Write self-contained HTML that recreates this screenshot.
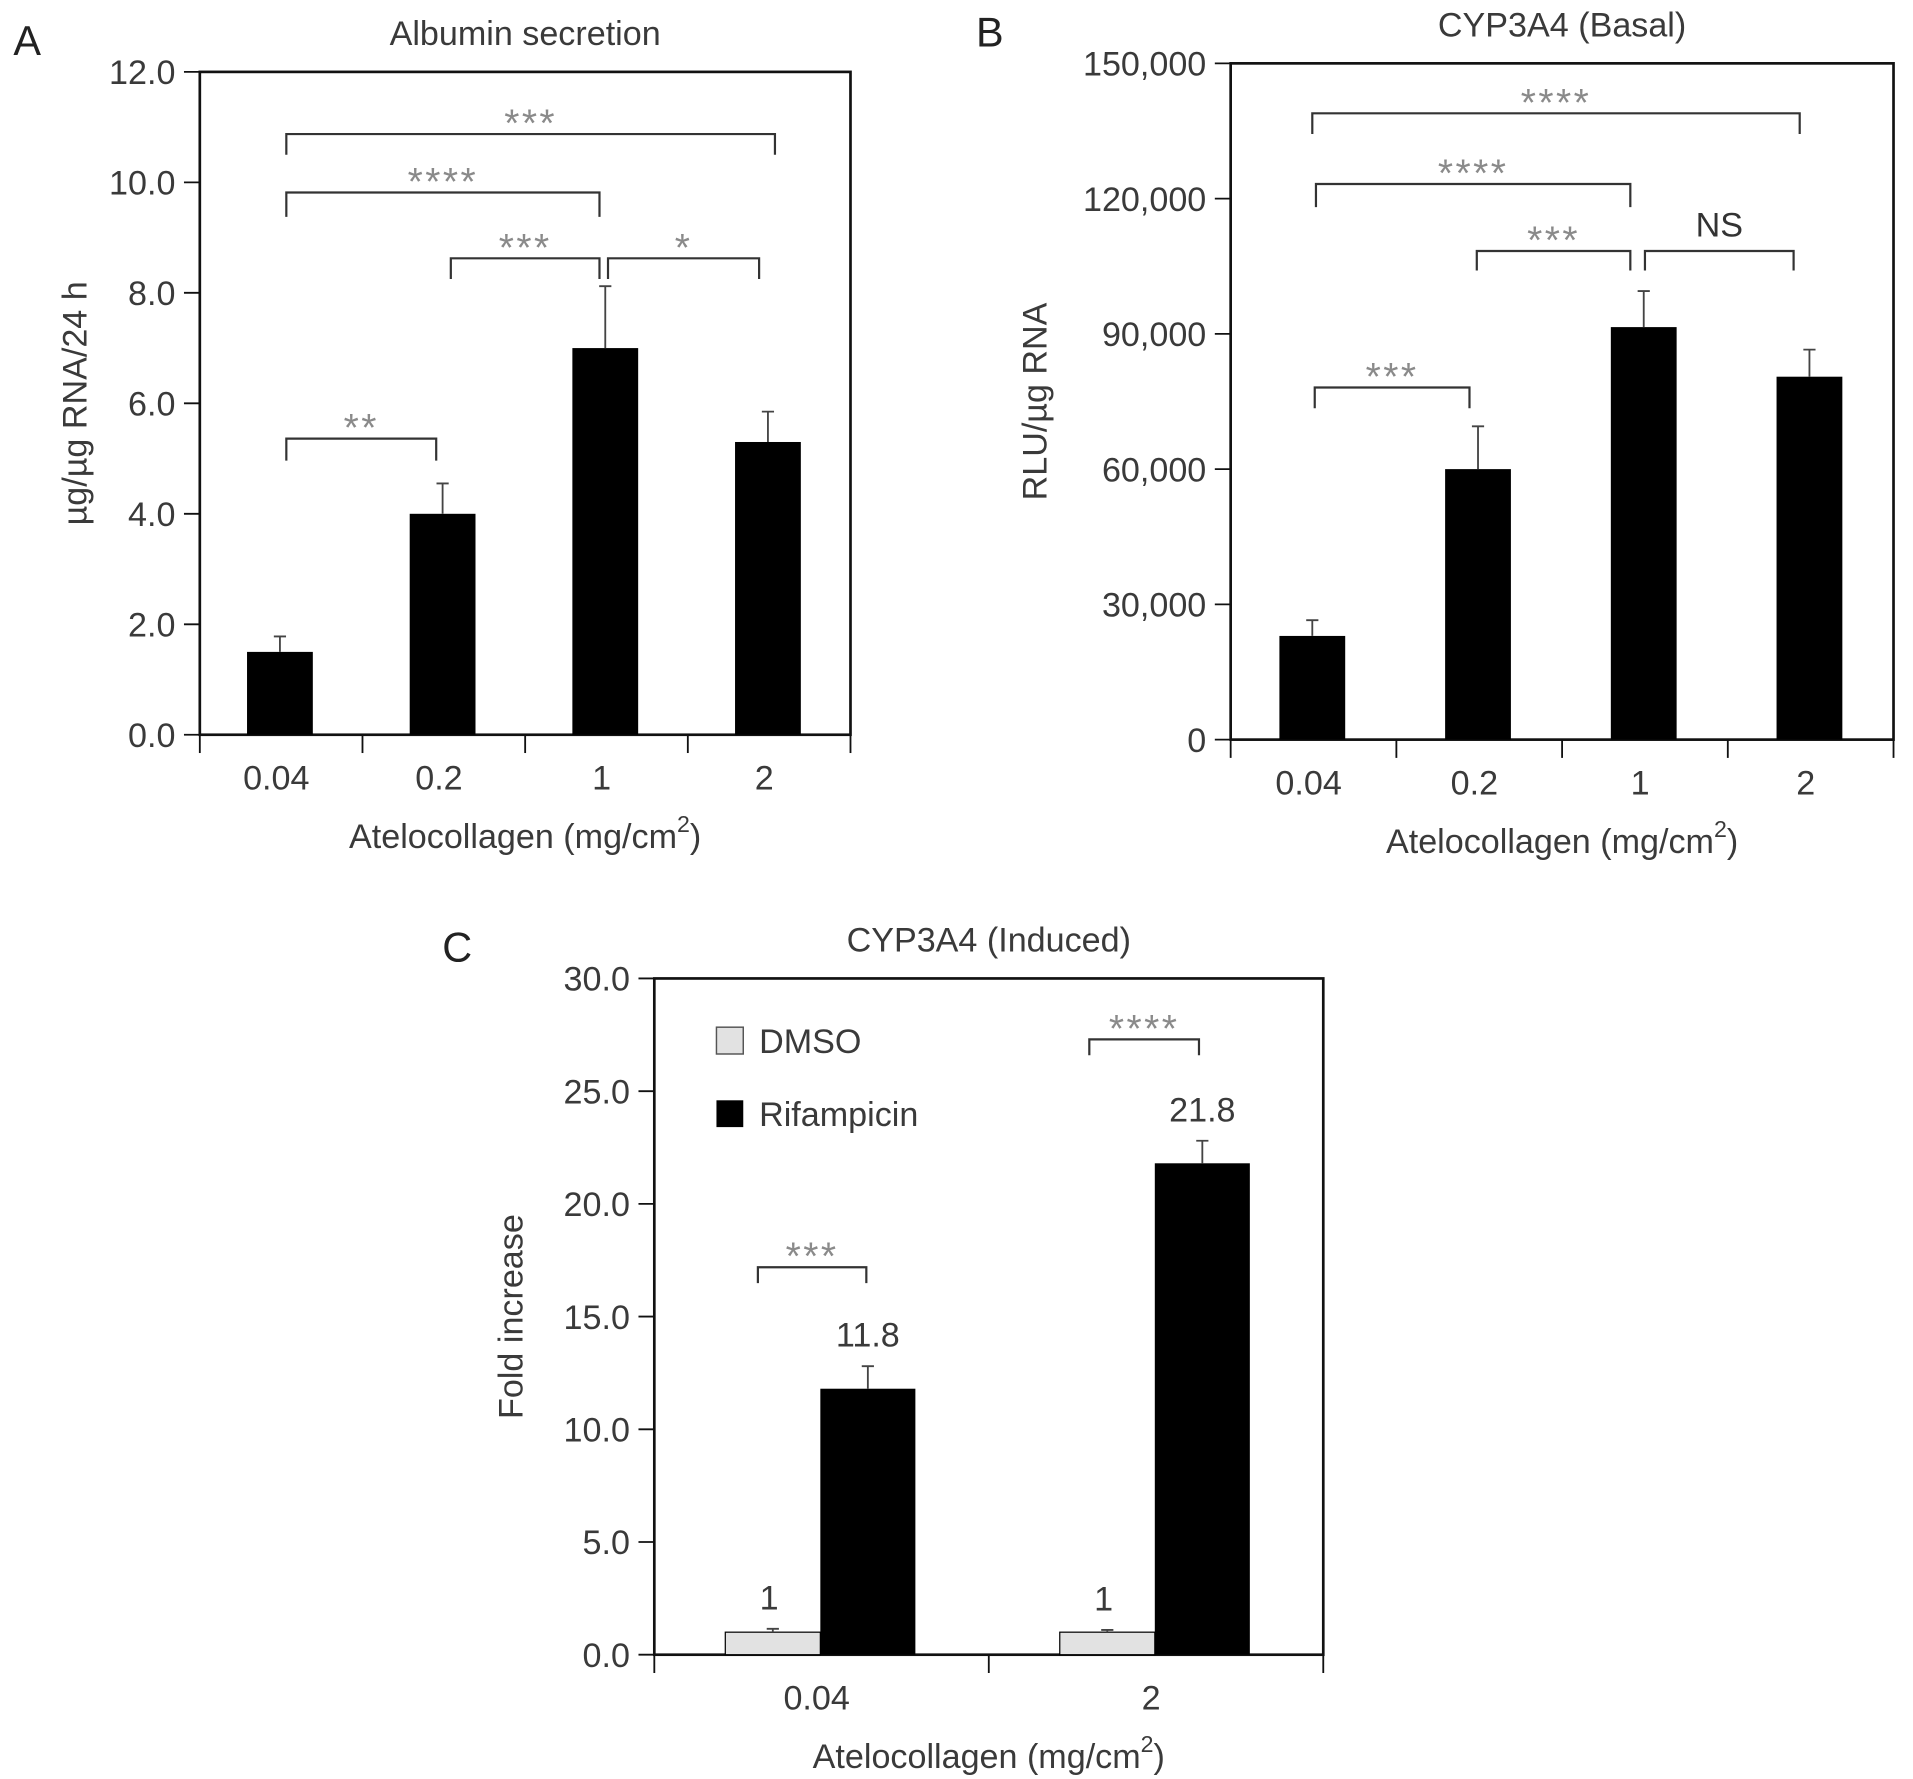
<!DOCTYPE html>
<html><head><meta charset="utf-8"><style>
html,body{margin:0;padding:0;background:#fff;}
svg{display:block;font-family:"Liberation Sans",sans-serif;}
</style></head><body>
<svg id="fig" width="1913" height="1779" viewBox="0 0 1568 1460" xmlns="http://www.w3.org/2000/svg"></svg>
<script>
// Panel A data
const aCategories = ["0.04","0.2","1","2"];
const aValues = [1.5, 4.0, 7.0, 5.3];
const aErrors = [0.28, 0.55, 1.12, 0.55];
const aTicks = [0,2,4,6,8,10,12];
const aTickLabels = ["0.0","2.0","4.0","6.0","8.0","10.0","12.0"];
// Panel B data
const bCategories = ["0.04","0.2","1","2"];
const bValues = [23000, 60000, 91500, 80500];
const bErrors = [3500, 9500, 8000, 6000];
const bTicks = [0,30000,60000,90000,120000,150000];
const bTickLabels = ["0","30,000","60,000","90,000","120,000","150,000"];
// Panel C data
const cCategories = ["0.04","2"];
const cDmso = [1, 1];
const cDmsoErr = [0.15, 0.1];
const cRif = [11.8, 21.8];
const cRifErr = [1.0, 1.0];
const cTicks = [0,5,10,15,20,25,30];
const cTickLabels = ["0.0","5.0","10.0","15.0","20.0","25.0","30.0"];

const NS="http://www.w3.org/2000/svg";
const svg=document.getElementById('fig');
function mk(tag,attrs,parent,text){const e=document.createElementNS(NS,tag);for(const k in attrs)e.setAttribute(k,attrs[k]);if(text!==undefined)e.textContent=text;(parent||svg).appendChild(e);return e;}
const TXT="#3a3a3a";
const FS=28;

function panel(o){
  const g=mk('g',{});
  
  
  const y=v=>o.y0-(v/o.ymax)*(o.y0-o.top);
  const nC=o.cats.length, cw=(o.right-o.left)/nC;
  const cx=i=>o.left+cw*(i+0.5);
  const fr=mk('rect',{x:o.left,y:o.top,width:o.right-o.left,height:o.y0-o.top,fill:'none',stroke:'#111','stroke-width':2.2},g);
  
  
  o.ticks.forEach((t,i)=>{
    const tk=mk('line',{x1:o.left-13,x2:o.left,y1:y(t),y2:y(t),stroke:'#111','stroke-width':1.5},g);
    
    
    const tl=mk('text',{x:o.left-20,y:y(t)+10,'text-anchor':'end','font-size':FS,fill:TXT},g,o.tickLabels[i]);
    
    
  });
  for(let i=0;i<=nC;i++){
    const xt=mk('line',{x1:o.left+cw*i,x2:o.left+cw*i,y1:o.y0,y2:o.y0+15,stroke:'#111','stroke-width':1.5},g);
    
    
  }
  o.cats.forEach((c,i)=>{
    const cl=mk('text',{x:cx(i)+(o.catShift||0),y:o.y0+45,'text-anchor':'middle','font-size':FS,fill:TXT},g,c);
    
    
  });
  const tt=mk('text',{x:(o.left+o.right)/2,y:o.top-22,'text-anchor':'middle','font-size':FS,fill:TXT},g,o.title);
  
  
  const pl=mk('text',{x:o.letterX,y:o.top-14,'font-size':34,fill:'#222'},g,o.letter);
  
  
  const xl=mk('text',{x:(o.left+o.right)/2,y:o.y0+93,'text-anchor':'middle','font-size':FS,fill:TXT},g);
  
  
  xl.innerHTML='Atelocollagen (mg/cm<tspan dy="-13" font-size="19">2</tspan><tspan dy="13">)</tspan>';
  const yl=mk('text',{x:0,y:0,'text-anchor':'middle','font-size':FS,fill:TXT,transform:`translate(${o.ylabX},${(o.top+o.y0)/2}) rotate(-90)`},g,o.ylab);
  
  
  return {g,y,cx,cw};
}
function bar(g,x,w,v,e,y,fill,name){
  const b=mk('rect',{x:x,y:y(v),width:w,height:y(0)-y(v),fill:fill,stroke:'#000','stroke-width':fill==='#000'?0:1},g);
  
  
  const m=x+w/2;
  const el=mk('path',{d:`M${m},${y(v)} V${y(v+e)} M${m-5},${y(v+e)} H${m+5}`,stroke:'#444','stroke-width':1.5,fill:'none'},g);
  
  
}
function bracket(g,x1,x2,yTop,yLeg1,yLeg2,label,ns){
  const p=mk('path',{d:`M${x1},${yLeg1} V${yTop} H${x2} V${yLeg2}`,stroke:'#333','stroke-width':1.8,fill:'none'},g);
  
  
  const t=mk('text',{x:(x1+x2)/2,y:ns?yTop-12:yTop+2,'text-anchor':'middle','font-size':ns?FS:32,fill:ns?'#333':'#8a8a8a','letter-spacing':ns?0:2},g,label);
  
  
}

const A=panel({name:'panel-a-albumin',left:163,right:697,top:59,y0:603,ymax:12,cats:aCategories,ticks:aTicks,tickLabels:aTickLabels,title:'Albumin secretion',letter:'A',letterX:10,ylab:'µg/µg RNA/24 h',ylabX:70,catShift:-4});
aValues.forEach((v,i)=>bar(A.g,A.cx(i)-28,54,v,aErrors[i],A.y,'#000','bar-albumin-'+aCategories[i]));
bracket(A.g,234,635,110,127,127,'***');
bracket(A.g,234,491,158,178,178,'****');
bracket(A.g,369,491,212,229,229,'***');
bracket(A.g,498,622,212,229,229,'*');
bracket(A.g,234,357,360,378,378,'**');

const B=panel({name:'panel-b-cyp3a4-basal',left:1009,right:1553,top:52,y0:607,ymax:150000,cats:bCategories,ticks:bTicks,tickLabels:bTickLabels,title:'CYP3A4 (Basal)',letter:'B',letterX:800,ylab:'RLU/µg RNA',ylabX:858,catShift:-4});
bValues.forEach((v,i)=>bar(B.g,B.cx(i)-28,54,v,bErrors[i],B.y,'#000','bar-cyp-basal-'+bCategories[i]));
bracket(B.g,1076,1476,93,110,110,'****');
bracket(B.g,1079,1337,151,170,170,'****');
bracket(B.g,1211,1337,206,222,222,'***');
bracket(B.g,1349,1471,206,222,222,'NS',true);
bracket(B.g,1078,1205,318,335,335,'***');

const C=panel({name:'panel-c-cyp3a4-induced',left:536,right:1085,top:803,y0:1358,ymax:30,cats:cCategories,ticks:cTicks,tickLabels:cTickLabels,title:'CYP3A4 (Induced)',letter:'C',letterX:362,ylab:'Fold increase',ylabX:428,catShift:-4});
cCategories.forEach((c,i)=>{
  const m=C.cx(i)-1;
  bar(C.g,m-78,78,cDmso[i],cDmsoErr[i],C.y,'#e2e2e2','bar-dmso-'+c);
  bar(C.g,m,78,cRif[i],cRifErr[i],C.y,'#000','bar-rifampicin-'+c);
  const l1=mk('text',{x:m-42,y:C.y(cDmso[i]+cDmsoErr[i])-16,'text-anchor':'middle','font-size':FS,fill:TXT},C.g,String(cDmso[i]));
  
  
  const l2=mk('text',{x:m+39,y:C.y(cRif[i]+cRifErr[i])-16,'text-anchor':'middle','font-size':FS,fill:TXT},C.g,cRif[i].toFixed(1));
  
  
});
bracket(C.g,621,710,1040,1053,1053,'***');
bracket(C.g,893,983,853,866,866,'****');
const lg=mk('g',{},C.g);


const ld=mk('rect',{x:587,y:843,width:22,height:22,fill:'#e2e2e2',stroke:'#555','stroke-width':1.2},lg);


const ldt=mk('text',{x:622,y:864,'font-size':FS,fill:TXT},lg,'DMSO');


const lr=mk('rect',{x:587,y:903,width:22,height:22,fill:'#000'},lg);


const lrt=mk('text',{x:622,y:924,'font-size':FS,fill:TXT},lg,'Rifampicin');


</script>
</body></html>
